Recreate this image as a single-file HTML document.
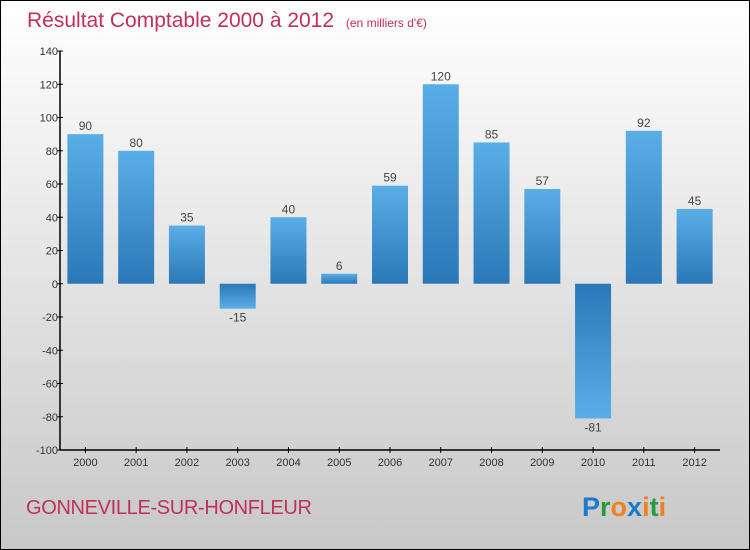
<!DOCTYPE html>
<html><head><meta charset="utf-8"><style>
html,body{margin:0;padding:0;width:750px;height:550px;overflow:hidden}
body{font-family:"Liberation Sans",sans-serif}
#frame{position:absolute;left:0;top:0;width:748px;height:548px;border:1px solid #000;background:linear-gradient(#ffffff,#c8c8c8)}
</style></head><body>
<div id="frame"></div>
<svg id="chart" width="750" height="550" style="position:absolute;left:0;top:0">
<defs>
<linearGradient id="gpos" x1="0" y1="0" x2="0" y2="1"><stop offset="0" stop-color="#5aaee6"/><stop offset="1" stop-color="#2a78b8"/></linearGradient>
<linearGradient id="gneg" x1="0" y1="0" x2="0" y2="1"><stop offset="0" stop-color="#2a78b8"/><stop offset="1" stop-color="#5aaee6"/></linearGradient>
</defs>
<text x="27" y="27" font-size="21" fill="#c0305a">Résultat Comptable 2000 à 2012 <tspan font-size="12" dx="6">(en milliers d'€)</tspan></text>
<text x="26" y="514" font-size="20" fill="#c0305a" textLength="286">GONNEVILLE-SUR-HONFLEUR</text>
<text x="582" y="516" font-size="27" font-weight="bold"><tspan fill="#1a7acc">P</tspan><tspan fill="#2a9a40">r</tspan><tspan fill="#f08020">o</tspan><tspan fill="#1a7acc">x</tspan><tspan fill="#f08020">i</tspan><tspan fill="#2a9a40">t</tspan><tspan fill="#f08020">i</tspan></text>
<g id="plot"></g>
</svg>
<script>
const categories=["2000","2001","2002","2003","2004","2005","2006","2007","2008","2009","2010","2011","2012"];
const values=[90,80,35,-15,40,6,59,120,85,57,-81,92,45];
const yTicks=[140,120,100,80,60,40,20,0,-20,-40,-60,-80,-100];
const X0=60,X1=720,Y0=51,Y1=450,VMAX=140,VMIN=-100;
const slot=(X1-X0)/categories.length;
function y(v){return Y0+(VMAX-v)*(Y1-Y0)/(VMAX-VMIN);}
function xc(i){return X0+slot*(i+0.5);}
const NS="http://www.w3.org/2000/svg";
const g=document.getElementById('plot');
function mk(t,a){const e=document.createElementNS(NS,t);for(const k in a)e.setAttribute(k,a[k]);g.appendChild(e);return e;}
values.forEach((v,i)=>{
  const bw=36,top=y(Math.max(v,0)),bot=y(Math.min(v,0));
  const r=mk('rect',{x:xc(i)-bw/2,y:top,width:bw,height:Math.max(bot-top,1),fill:v>=0?'url(#gpos)':'url(#gneg)'});
  
  
  const t=mk('text',{x:xc(i),y:v>=0?top-4:bot+13,'font-size':12,fill:'#444','text-anchor':'middle'});
  t.textContent=v;
  
  
  const tk=mk('line',{x1:xc(i),x2:xc(i),y1:Y1-3,y2:Y1+3,stroke:'#000'});
  
  
  const xl=mk('text',{x:xc(i),y:Y1+16,'font-size':11,fill:'#333','text-anchor':'middle'});
  xl.textContent=categories[i];
  
  
});
yTicks.forEach(v=>{
  const tk=mk('line',{x1:X0-3,x2:X0+3,y1:y(v),y2:y(v),stroke:'#000'});
  
  
  const l=mk('text',{x:X0-2,y:y(v)+4,'font-size':11,fill:'#333','text-anchor':'end'});
  l.textContent=v;
  
  
});
const ya=mk('line',{x1:X0,x2:X0,y1:Y0,y2:Y1,stroke:'#000','stroke-width':1.5});


const xa=mk('line',{x1:X0,x2:X1,y1:Y1,y2:Y1,stroke:'#000','stroke-width':1.5});


</script>
</body></html>
